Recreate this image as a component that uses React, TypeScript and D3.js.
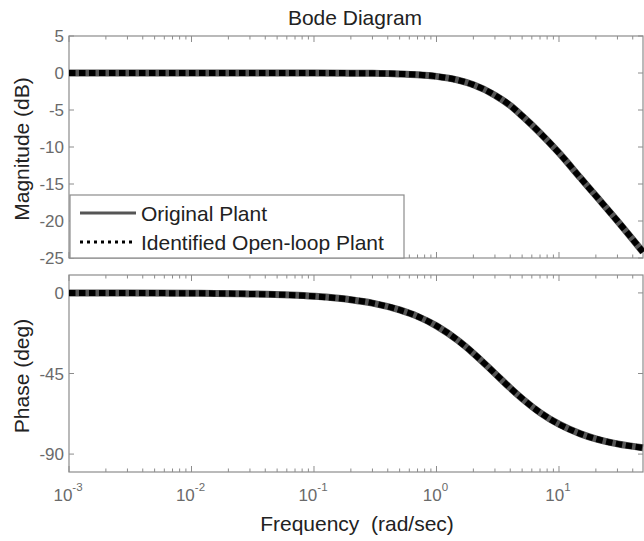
import React from "react";
import * as d3 from "d3";

const freqs = [0.001, 0.003, 0.01, 0.03, 0.1, 0.2, 0.3, 0.5, 0.7, 1, 1.5, 2, 3, 4, 5, 7, 10, 15, 20, 30, 48.5];
const magOriginal = [0, 0, 0, 0, -0.005, -0.02, -0.04, -0.12, -0.23, -0.46, -0.97, -1.6, -3.0, -4.4, -5.8, -8.1, -10.8, -14.2, -16.6, -20.0, -24.2];
const magIdentified = [0, 0, 0, 0, -0.005, -0.02, -0.04, -0.12, -0.23, -0.46, -0.97, -1.6, -3.0, -4.4, -5.8, -8.1, -10.8, -14.2, -16.6, -20.0, -24.2];
const phaseOriginal = [-0.02, -0.06, -0.19, -0.57, -1.9, -3.8, -5.7, -9.5, -13.1, -18.4, -26.6, -33.7, -45, -53.1, -59.0, -66.8, -73.3, -78.7, -81.5, -84.3, -86.5];
const phaseIdentified = [-0.02, -0.06, -0.19, -0.57, -1.9, -3.8, -5.7, -9.5, -13.1, -18.4, -26.6, -33.7, -45, -53.1, -59.0, -66.8, -73.3, -78.7, -81.5, -84.3, -86.5];

const magTicks = [5, 0, -5, -10, -15, -20, -25];
const phaseTicks = [0, -45, -90];
const decadeExps = [-3, -2, -1, 0, 1];
const legendLabels = ["Original Plant", "Identified Open-loop Plant"];
const title = "Bode Diagram";
const xLabel = "Frequency  (rad/sec)";
const magLabel = "Magnitude (dB)";
const phaseLabel = "Phase (deg)";

const FONT = "'Liberation Sans', Arial, Helvetica, sans-serif";
const FRAME = "#8c8c8c";
const TICKTXT = "#6a6a6a";

export default function App() {
  const W = 644, H = 541;
  const left = 69, right = 643;
  const x = d3.scaleLog().domain([0.001, 48.5]).range([left, right]);
  const yMag = d3.scaleLinear().domain([-25, 5]).range([258, 36]);
  const yPh = d3.scaleLinear().domain([-100, 10]).range([472, 275]);

  const minorTicks: number[] = [];
  for (let e = -3; e <= 1; e++) {
    for (let k = 1; k <= 9; k++) {
      const v = k * Math.pow(10, e);
      if (v <= 48.5) minorTicks.push(v);
    }
  }

  const lineFor = (ys: number[], y: d3.ScaleLinear<number, number>) =>
    d3
      .line<number>()
      .x((_, i) => x(freqs[i]))
      .y((v) => y(v))
      .curve(d3.curveMonotoneX)(ys) as string;

  const panel = (
    y: d3.ScaleLinear<number, number>,
    yTicks: number[],
    orig: number[],
    ident: number[],
    key: string
  ) => {
    const [y0, y1] = y.range(); // bottom, top
    return (
      <g key={key}>
        <rect x={left} y={y1} width={right - left} height={y0 - y1} fill="#fff" stroke={FRAME} strokeWidth={1.2} />
        {minorTicks.map((v, i) => {
          const isMajor = Math.abs(Math.log10(v) - Math.round(Math.log10(v))) < 1e-9;
          const len = isMajor ? 6 : 3.5;
          const xx = x(v);
          return (
            <g key={i} stroke={FRAME} strokeWidth={1}>
              <line x1={xx} x2={xx} y1={y0} y2={y0 - len} />
              <line x1={xx} x2={xx} y1={y1} y2={y1 + len} />
            </g>
          );
        })}
        {yTicks.map((t) => (
          <g key={t}>
            <line x1={left} x2={left + 5} y1={y(t)} y2={y(t)} stroke={FRAME} />
            <line x1={right} x2={right - 5} y1={y(t)} y2={y(t)} stroke={FRAME} />
            <text x={left - 5} y={y(t) + 6} textAnchor="end" fontSize={17} fill={TICKTXT} fontFamily={FONT}>
              {t}
            </text>
          </g>
        ))}
        <path d={lineFor(orig, y)} fill="none" stroke="#555" strokeWidth={7} />
        <path d={lineFor(ident, y)} fill="none" stroke="#000" strokeWidth={6} strokeDasharray="6.5,3.5" />
      </g>
    );
  };

  return (
    <svg width={W} height={H} style={{ position: "absolute", left: 0, top: 0, background: "#fff" }}>
      <rect width={W} height={H} fill="#fff" />
      <text x={355} y={25} textAnchor="middle" fontSize={21} fill="#222" fontFamily={FONT}>
        {title}
      </text>
      {panel(yMag, magTicks, magOriginal, magIdentified, "mag")}
      {panel(yPh, phaseTicks, phaseOriginal, phaseIdentified, "ph")}

      {/* legend */}
      <g>
        <rect x={70} y={195} width={334} height={63} fill="#fff" stroke={FRAME} strokeWidth={1.2} />
        <line x1={80} x2={136} y1={213} y2={213} stroke="#555" strokeWidth={3} />
        <text x={141} y={221} fontSize={21} fill="#222" fontFamily={FONT}>
          {legendLabels[0]}
        </text>
        <line x1={80} x2={136} y1={242} y2={242} stroke="#000" strokeWidth={3} strokeDasharray="3,4" />
        <text x={141} y={250} fontSize={21} fill="#222" fontFamily={FONT}>
          {legendLabels[1]}
        </text>
      </g>

      {/* x tick labels */}
      {decadeExps.map((e) => (
        <text key={e} x={x(Math.pow(10, e)) - 1} y={501} textAnchor="middle" fill={TICKTXT} fontFamily={FONT}>
          <tspan fontSize={17}>10</tspan>
          <tspan fontSize={11.5} dy={-10}>
            {e}
          </tspan>
        </text>
      ))}

      <text x={357} y={531} textAnchor="middle" fontSize={21} fill="#222" fontFamily={FONT} style={{ whiteSpace: "pre" }}>
        {xLabel}
      </text>
      <text transform={`translate(29,149) rotate(-90)`} textAnchor="middle" fontSize={21} fill="#222" fontFamily={FONT}>
        {magLabel}
      </text>
      <text transform={`translate(29,376) rotate(-90)`} textAnchor="middle" fontSize={21} fill="#222" fontFamily={FONT}>
        {phaseLabel}
      </text>
    </svg>
  );
}
